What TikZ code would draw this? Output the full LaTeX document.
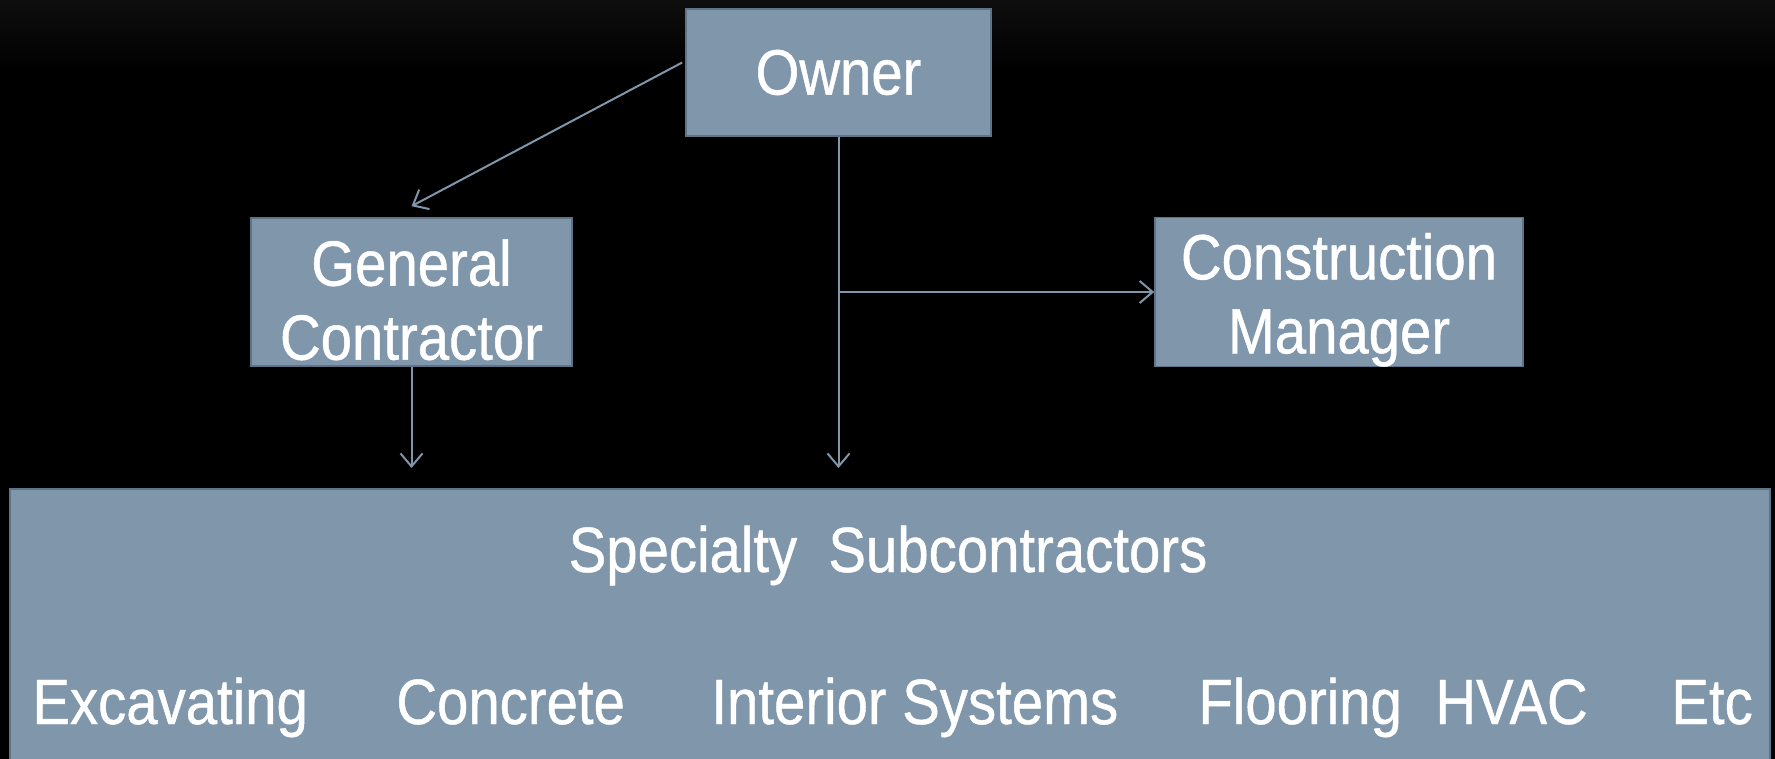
\documentclass[tikz,border=0pt]{standalone}
\usepackage{fontspec}
\setmainfont[FakeStretch=0.88,FakeBold=0.7]{Liberation Sans}
\usetikzlibrary{arrows.meta}
\definecolor{boxfill}{HTML}{7F96AB}
\definecolor{boxline}{HTML}{5E7387}
\definecolor{topgray}{HTML}{0E0E0E}
\begin{document}
\begin{tikzpicture}[x=0.5pt,y=-0.5pt,
  box/.style={draw=boxline, line width=0.8pt, fill=boxfill, text=white, align=center,
    inner sep=0pt, font=\fontsize{32}{37}\selectfont},
  lbl/.style={text=white, inner sep=0pt, font=\fontsize{32}{37}\selectfont},
  arr/.style={draw=boxfill, line width=1pt, -{Straight Barb[length=6.5pt,width=11pt,line width=1pt]}}]
\useasboundingbox (0,0) rectangle (1775,759);
\fill[black] (0,0) rectangle (1775,759);
\shade[top color=topgray, bottom color=black] (0,0) rectangle (1775,70);
% boxes
\node[box, minimum width=152.5pt, minimum height=63.5pt] (owner) at (838.5,72.5) {Owner};
\node[box, minimum width=160.5pt, minimum height=74pt] (gc) at (411.5,292) {\rule{0pt}{31pt}General\\Contractor};
\node[box, minimum width=184pt, minimum height=74pt] (cm) at (1339,292) {\rule{0pt}{31pt}Construction\\Manager};
\node[box, minimum width=880pt, minimum height=140pt, anchor=north west] (sub) at (9,488) {};
% texts in the subcontractor box
\node[lbl, anchor=base] (spec) at (888,572) {Specialty\ \ Subcontractors};
\node[lbl, anchor=base west] (exc) at (32,724) {Excavating};
\node[lbl, anchor=base west] (con) at (396,724) {Concrete};
\node[lbl, anchor=base west] (int) at (711,724) {Interior Systems};
\node[lbl, anchor=base west] (flo) at (1198,724) {Flooring};
\node[lbl, anchor=base west] (hva) at (1435,724) {HVAC};
\node[lbl, anchor=base west] (etc) at (1671,724) {Etc};
% connectors
\coordinate (branch) at (owner.south |- cm.west);
\coordinate (ownerend) at ([yshift=10pt]sub.north -| owner.south);
\coordinate (gcend) at ([yshift=10pt]sub.north -| gc.south);
\draw[arr] ([xshift=-1.5pt,yshift=5pt]owner.west) -- ([yshift=5.5pt]gc.north);
\draw[arr] (owner.south) -- (ownerend);
\draw[arr] (branch) -- (cm.west);
\draw[arr] (gc.south) -- (gcend);
\end{tikzpicture}
\end{document}
